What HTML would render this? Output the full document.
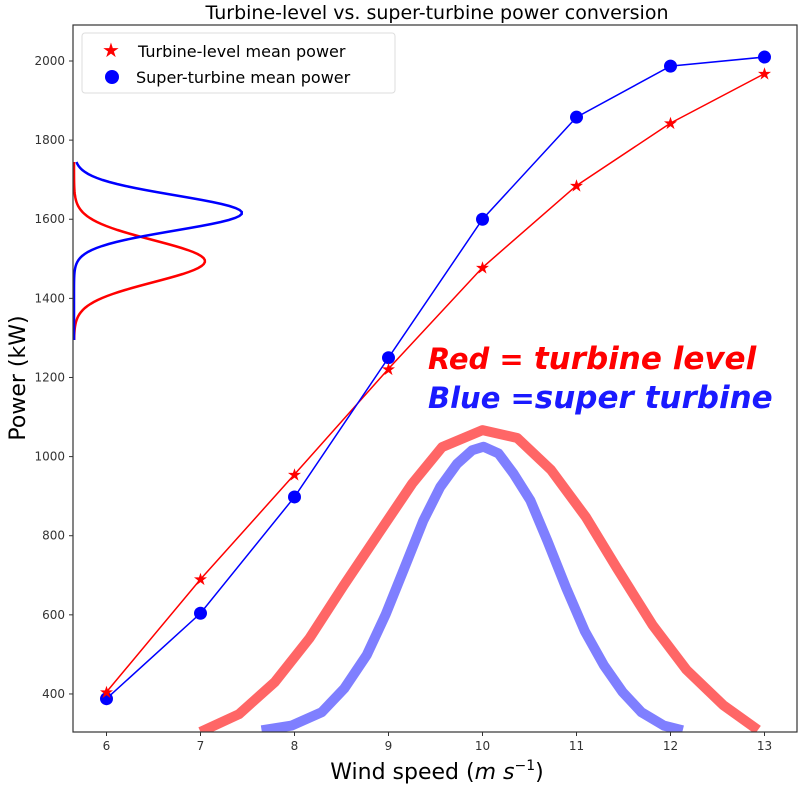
<!DOCTYPE html>
<html><head><meta charset="utf-8"><style>
body{margin:0;background:#fff}
svg text{font-family:"DejaVu Sans","Liberation Sans",sans-serif}
</style></head><body>
<svg id="c" width="799" height="785" xmlns="http://www.w3.org/2000/svg">
<text x="437" y="19" text-anchor="middle" font-size="19" fill="#000">Turbine-level vs. super-turbine power conversion</text>
<g id="plot"></g>
<rect x="73" y="25" width="724" height="707" fill="none" stroke="#333" stroke-width="1.2"/>
<g id="axes"></g>
<text x="437" y="779" text-anchor="middle" font-size="22">Wind speed (<tspan font-style="italic">m s</tspan><tspan font-size="14" dy="-9">−1</tspan><tspan dy="9">)</tspan></text>
<text transform="translate(25,378) rotate(-90)" text-anchor="middle" font-size="22">Power (kW)</text>
<g>
<rect x="82" y="33" width="313" height="60" rx="3" fill="#fff" stroke="#ddd"/>
<text x="111" y="57" text-anchor="middle" font-size="20" fill="red">★</text>
<text x="138" y="57" font-size="16">Turbine-level mean power</text>
<circle cx="112" cy="77" r="7" fill="blue"/>
<text x="136" y="83" font-size="16">Super-turbine mean power</text>
</g>
<text x="428" y="369" font-size="29" font-weight="bold" font-style="italic" fill="red">Red = <tspan font-size="31">turbine level</tspan></text>
<text x="428" y="408" font-size="29" font-weight="bold" font-style="italic" fill="#1a1aff">Blue =<tspan font-size="31">super turbine</tspan></text>
</svg>
<script>
const windSpeeds=[6,7,8,9,10,11,12,13];
const turbinePower=[405,690,955,1222,1478,1685,1843,1968];
const superPower=[388,604,898,1250,1600,1858,1987,2010];
const redDistX=[7.0,7.41,7.79,8.16,8.52,8.89,9.25,9.57,10.0,10.37,10.73,11.10,11.43,11.81,12.17,12.56,12.93];
const redDistY=[304,349,430,541,673,804,931,1024,1067,1047,966,847,718,574,461,372,309];
const blueDistX=[7.65,7.97,8.29,8.53,8.77,8.97,9.17,9.37,9.55,9.73,9.89,10.01,10.17,10.33,10.51,10.69,10.89,11.09,11.29,11.49,11.69,11.93,12.13];
const blueDistY=[308,320,354,414,499,601,719,838,923,982,1016,1025,1008,957,889,787,668,558,473,405,354,320,308];
const xTicks=[6,7,8,9,10,11,12,13];
const yTicks=[400,600,800,1000,1200,1400,1600,1800,2000];
const ns="http://www.w3.org/2000/svg";
const X=v=>106.5+(v-6)*94;
const Y=v=>61+(2000-v)*0.3956;
const plot=document.getElementById('plot'),axes=document.getElementById('axes');
function mk(t,a,p){const e=document.createElementNS(ns,t);for(const k in a)e.setAttribute(k,a[k]);p.appendChild(e);return e;}
const clip=mk('clipPath',{id:'cp'},plot);mk('rect',{x:73,y:25,width:724,height:707},clip);
const g=mk('g',{'clip-path':'url(#cp)'},plot);
function poly(xs,ys){return xs.map((x,i)=>X(x)+','+Y(ys[i])).join(' ');}
let e;
e=mk('polyline',{points:poly(redDistX,redDistY),fill:'none',stroke:'rgba(255,0,0,0.6)','stroke-width':10,'stroke-linejoin':'round'},g);


e=mk('polyline',{points:poly(blueDistX,blueDistY),fill:'none',stroke:'rgba(0,0,255,0.5)','stroke-width':10,'stroke-linejoin':'round'},g);


function side(peak,sig,amp,col,name){let pts=[];for(let y=162;y<=341;y+=2){pts.push((74+amp*Math.exp(-Math.pow(y-peak,2)/(2*sig*sig)))+','+y);}
const p=mk('polyline',{points:pts.join(' '),fill:'none',stroke:col,'stroke-width':2.5},g);

}
side(Y(1494),21,131,'red','red-side-distribution');
side(Y(1616),17.5,168,'blue','blue-side-distribution');
e=mk('polyline',{points:poly(windSpeeds,turbinePower),fill:'none',stroke:'red','stroke-width':1.5},g);


e=mk('polyline',{points:poly(windSpeeds,superPower),fill:'none',stroke:'blue','stroke-width':1.5},g);


windSpeeds.forEach((w,i)=>{
 const c=mk('circle',{cx:X(w),cy:Y(superPower[i]),r:6.5,fill:'blue'},g);
 
 
 const s=mk('text',{x:X(w),y:Y(turbinePower[i])+6,'text-anchor':'middle','font-size':17,fill:'red'},g);
 s.textContent='★';
 
 
});
xTicks.forEach(t=>{mk('line',{x1:X(t),x2:X(t),y1:732,y2:736,stroke:'#333'},axes);
 const l=mk('text',{x:X(t),y:750,'text-anchor':'middle','font-size':12,fill:'#333'},axes);l.textContent=t;
 
 });
yTicks.forEach(t=>{mk('line',{x1:69,x2:73,y1:Y(t),y2:Y(t),stroke:'#333'},axes);
 const l=mk('text',{x:65,y:Y(t)+4,'text-anchor':'end','font-size':12,fill:'#333'},axes);l.textContent=t;
 
 });
</script>
</body></html>
